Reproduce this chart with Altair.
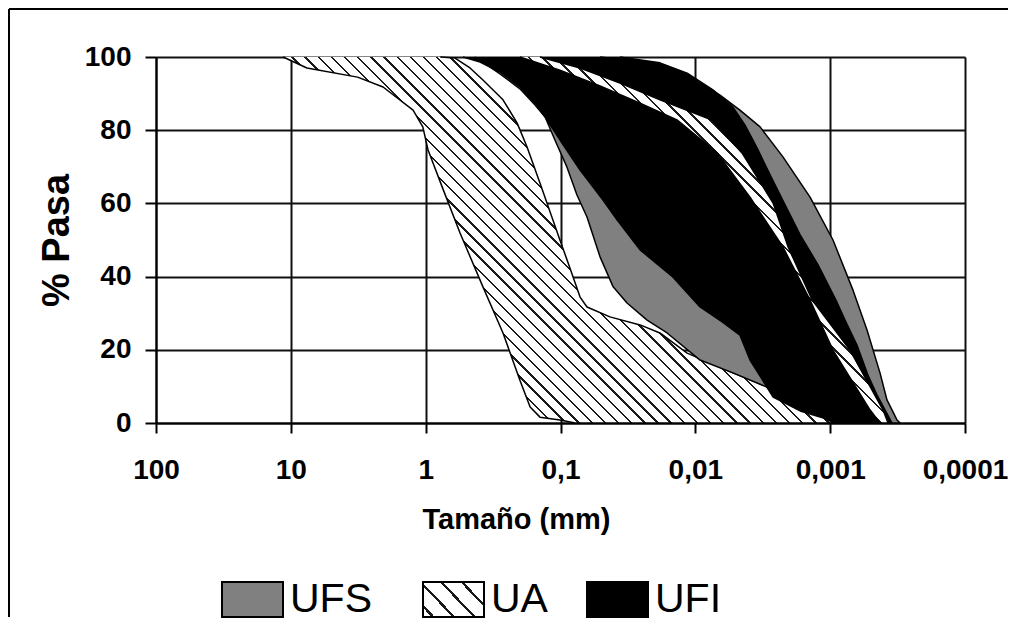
import math
import altair as alt
import pandas as pd

# ---------------- values (size in mm, % passing) ----------------
# UA band (hatched): coarse boundary top->bottom, fine boundary bottom->top
ua_coarse_size = [11.4, 7.6, 3.2, 2.07, 1.24, 1.05, 0.96, 0.74, 0.556, 0.376, 0.267, 0.20, 0.168, 0.142, 0.101, 0.078]
ua_coarse_pct = [100, 97, 94.5, 91.8, 85.5, 80.9, 74.6, 63.7, 51.9, 37.2, 24.6, 11.7, 4.4, 1.6, 0.8, 0]
ua_fine_size = [0.00085, 0.001, 0.00125, 0.00224, 0.00526, 0.0115, 0.0183, 0.0257, 0.043, 0.0636, 0.0716,
                0.085, 0.101, 0.142, 0.177, 0.21, 0.267, 0.376, 0.469, 0.606, 0.78]
ua_fine_pct = [0, 0.5, 2.7, 8.2, 13.7, 19.1, 24.6, 26.8, 29.0, 31.7, 34.4,
               42.3, 50.0, 65.6, 75.4, 82.0, 88.3, 93.7, 97.0, 99.7, 100]

# UA narrow strip (hatched) showing through the UFI band
uas_coarse_size = [0.20, 0.101, 0.0509, 0.0257, 0.01368, 0.0069, 0.00393, 0.00224, 0.00141, 0.000953, 0.000507, 0.000427]
uas_coarse_pct = [100, 96.4, 92.1, 87.4, 82.8, 73.8, 61.7, 48.1, 33.6, 19.9, 3.6, 0]
uas_fine_size = [0.000372, 0.000406, 0.000713, 0.00136, 0.00205, 0.00265, 0.00451, 0.00752, 0.0183, 0.0362, 0.0716, 0.142]
uas_fine_pct = [0, 3.6, 19.9, 33.6, 48.1, 60.1, 73.8, 82.8, 88.3, 92.9, 97.0, 100]

# UFS band (grey)
ufs_coarse_size = [0.431, 0.281, 0.20, 0.1545, 0.130, 0.110, 0.0895, 0.0755, 0.0636, 0.0509, 0.0407, 0.0321,
                   0.0228, 0.0162, 0.00923, 0.00526, 0.00294, 0.00167, 0.001, 0.000776]
ufs_coarse_pct = [100, 95.4, 91.3, 86.9, 83.6, 77.3, 69.9, 62.3, 56.3, 45.4, 37.2, 32.8,
                  28.1, 24.6, 17.2, 13.7, 9.8, 5.5, 0.8, 0]
ufs_fine_size = [0.000303, 0.000319, 0.000379, 0.000427, 0.000533, 0.000677, 0.000953, 0.00141, 0.00224,
                 0.00331, 0.00467, 0.00656, 0.0109, 0.0217, 0.0509]
ufs_fine_pct = [0, 0.8, 6.3, 13.7, 25.4, 36.3, 50.0, 61.7, 72.7, 80.9, 85.5, 89.6, 94.5, 98.4, 100]

# UFI band (black)
ufi_coarse_size = [0.528, 0.395, 0.281, 0.20, 0.1545, 0.130, 0.0975, 0.0716, 0.0484, 0.0381, 0.0257, 0.0147,
                   0.00923, 0.00632, 0.00467, 0.00393, 0.00265, 0.00167, 0.001, 0.000713]
ufi_coarse_pct = [100, 98.6, 95.9, 91.8, 87.4, 83.6, 76.5, 69.1, 60.9, 55.5, 47.3, 39.9,
                  31.7, 27.6, 24.0, 17.2, 7.1, 3.3, 0.8, 0]
ufi_fine_size = [0.000348, 0.000392, 0.000450, 0.000525, 0.000633, 0.000776, 0.000906, 0.00123, 0.00167,
                 0.00216, 0.00279, 0.00348, 0.00428, 0.00526, 0.0074, 0.0115, 0.0183, 0.0362]
ufi_fine_pct = [0, 3.6, 7.7, 13.1, 21.3, 28.1, 33.6, 43.2, 51.4,
                59.6, 67.8, 75.1, 81.4, 86.3, 91.0, 95.6, 98.4, 100]

x_ticks = [100, 10, 1, 0.1, 0.01, 0.001, 0.0001]
y_ticks = [0, 20, 40, 60, 80, 100]
legend_labels = ["UFS", "UA", "UFI"]

# ---------------- layout / style ----------------
W, H = 809, 366
X_MIN, X_MAX = 0.0001, 100
FONT = "Liberation Sans"


def px_x(s):
    return W * (math.log10(X_MAX) - math.log10(s)) / (math.log10(X_MAX) - math.log10(X_MIN))


def px_y(p):
    return H * (1 - p / 100.0)


def polygon(cs, cp, fs, fp):
    s = list(cs) + list(fs)
    p = list(cp) + list(fp)
    return pd.DataFrame({"size": s, "pct": p, "i": list(range(len(s)))})


def hatch(w, h, spacing=9.3, thick=1.7, color="#1a1a1a"):
    """45-degree '\\' hatch built from a striped linear gradient over a w x h box."""
    k = (w + h) / (w * w + h * h)
    a, b = w * k, h * k
    L = (w + h) / math.sqrt(2)
    GS = alt.GradientStop
    stops = [GS(offset=0, color="white")]
    p = spacing / 2
    while p + thick / 2 < L:
        t0 = round((p - thick / 2) / L, 5)
        t1 = round((p + thick / 2) / L, 5)
        stops += [GS(offset=t0, color="white"), GS(offset=t0, color=color),
                  GS(offset=t1, color=color), GS(offset=t1, color="white")]
        p += spacing
    stops.append(GS(offset=1, color="white"))
    return alt.LinearGradient(gradient="linear", stops=stops, x1=0, y1=1, x2=round(a, 5), y2=round(1 - b, 5))


def bbox(sizes, pcts):
    xs = [px_x(s) for s in sizes]
    ys = [px_y(p) for p in pcts]
    return max(xs) - min(xs), max(ys) - min(ys)


X = alt.X("size:Q",
          scale=alt.Scale(type="log", domain=[X_MIN, X_MAX], reverse=True, nice=False),
          axis=alt.Axis(values=x_ticks, labelExpr="replace(toString(datum.value), '.', ',')",
                        title="Tamaño (mm)", tickSize=10, labelPadding=23, labelFlush=False,
                        labelOverlap=False, titleFontSize=29, titleX=360, titleY=82,
                        titleBaseline="top", grid=True))
Y = alt.Y("pct:Q",
          scale=alt.Scale(domain=[0, 100], nice=False),
          axis=alt.Axis(values=y_ticks, title="% Pasa", tickSize=11, labelPadding=14,
                        titleFontSize=38, titlePadding=8, grid=True))


def band(df, fill):
    return alt.Chart(df).mark_line(fill=fill, stroke="black", strokeWidth=1.5,
                                   strokeJoin="round").encode(x=X, y=Y, order=alt.Order("i:Q"))


ua_df = polygon(ua_coarse_size, ua_coarse_pct, ua_fine_size, ua_fine_pct)
uas_df = polygon(uas_coarse_size, uas_coarse_pct, uas_fine_size, uas_fine_pct)
ufs_df = polygon(ufs_coarse_size, ufs_coarse_pct, ufs_fine_size, ufs_fine_pct)
ufi_df = polygon(ufi_coarse_size, ufi_coarse_pct, ufi_fine_size, ufi_fine_pct)

ua_w, ua_h = bbox(ua_df["size"], ua_df["pct"])
uas_w, uas_h = bbox(uas_df["size"], uas_df["pct"])

layers = [
    band(ua_df, hatch(ua_w, ua_h)),
    band(ufs_df, "#808080"),
    band(ufi_df, "black"),
    band(uas_df, hatch(uas_w, uas_h)),
]

# outer frame (top and left edges, as in the scanned figure)
one = pd.DataFrame({"k": [0]})
layers.append(alt.Chart(one).mark_rule(color="black", strokeWidth=2).encode(
    x=alt.value(-147), x2=alt.value(852), y=alt.value(-48)))
layers.append(alt.Chart(one).mark_rule(color="black", strokeWidth=2).encode(
    x=alt.value(-147), y=alt.value(-48), y2=alt.value(560)))

# legend
leg_fills = {"UFS": "#808080", "UA": hatch(62, 35, spacing=15.0, thick=2.2), "UFI": "black"}
leg_x = {"UFS": 66, "UA": 267, "UFI": 431}
for lab in legend_labels:
    d = pd.DataFrame({"label": [lab]})
    x0 = leg_x[lab]
    layers.append(alt.Chart(d).mark_rect(fill=leg_fills[lab], stroke="black", strokeWidth=2).encode(
        x=alt.value(x0), x2=alt.value(x0 + 61), y=alt.value(525), y2=alt.value(560)))
    layers.append(alt.Chart(d).mark_text(align="left", baseline="middle", font=FONT, fontSize=41,
                                         color="black").encode(
        x=alt.value(x0 + 68), y=alt.value(543), text="label:N"))

chart = alt.layer(*layers).properties(
    width=W, height=H, background="white",
    padding={"left": 0, "top": 0, "right": 0, "bottom": 0}
).configure_axis(
    labelFont=FONT, labelFontWeight="bold", labelFontSize=28, labelColor="black",
    titleFont=FONT, titleFontWeight="bold", titleColor="black",
    domainColor="black", domainWidth=2, tickColor="black", tickWidth=2,
    gridColor="#111111", gridWidth=2, gridOpacity=1
).configure_view(stroke=None)

chart.save("out.html", embed_options={"renderer": "svg", "actions": False})
